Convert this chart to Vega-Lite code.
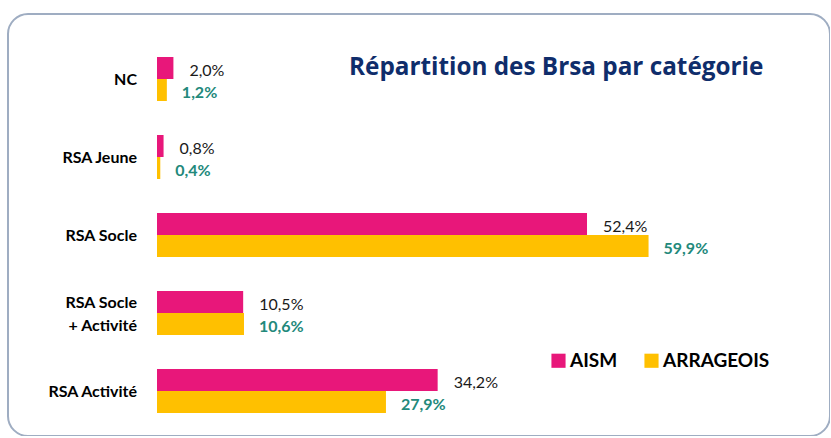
{
  "$schema": "https://vega.github.io/schema/vega-lite/v6.json",
  "width": 822,
  "height": 422,
  "autosize": "none",
  "padding": {"left": 8, "top": 14, "right": 0, "bottom": 0},
  "background": "white",
  "title": {
    "text": "Répartition des Brsa par catégorie",
    "anchor": "start",
    "frame": "group",
    "orient": "top",
    "baseline": "alphabetic",
    "offset": 0,
    "dx": 341,
    "dy": 85,
    "font": "Open Sans",
    "fontSize": 24.3,
    "fontWeight": "bold",
    "color": "#0f2d6b"
  },
  "config": {
    "font": "Lato",
    "locale": {"number": {"decimal": ",", "thousands": " ", "grouping": [3], "currency": ["", " €"], "percent": "%"}},
    "view": {"stroke": "#9fadc2", "strokeWidth": 2, "cornerRadius": 20},
    "legend": {
      "orient": "none",
      "legendX": 541,
      "legendY": 337,
      "direction": "horizontal",
      "symbolType": "square",
      "symbolSize": 200,
      "symbolStrokeWidth": 0,
      "labelFontSize": 19,
      "labelFontWeight": "bold",
      "labelColor": "black",
      "labelFont": "Lato",
      "labelOffset": 2,
      "columnPadding": 24,
      "title": null
    }
  },
  "data": {
    "values": [
      {"cat": "NC", "serie": "AISM", "value": 0.020},
      {"cat": "NC", "serie": "ARRAGEOIS", "value": 0.012},
      {"cat": "RSA Jeune", "serie": "AISM", "value": 0.008},
      {"cat": "RSA Jeune", "serie": "ARRAGEOIS", "value": 0.004},
      {"cat": "RSA Socle", "serie": "AISM", "value": 0.524},
      {"cat": "RSA Socle", "serie": "ARRAGEOIS", "value": 0.599},
      {"cat": "RSA Socle\n+ Activité", "serie": "AISM", "value": 0.105},
      {"cat": "RSA Socle\n+ Activité", "serie": "ARRAGEOIS", "value": 0.106},
      {"cat": "RSA Activité", "serie": "AISM", "value": 0.342},
      {"cat": "RSA Activité", "serie": "ARRAGEOIS", "value": 0.279}
    ]
  },
  "encoding": {
    "y": {
      "field": "cat",
      "type": "nominal",
      "sort": null,
      "scale": {"range": [26, 416], "paddingInner": 0.436, "paddingOuter": 0.218},
      "axis": null
    },
    "yOffset": {"field": "serie", "type": "nominal", "scale": {"paddingInner": 0, "paddingOuter": 0}}
  },
  "layer": [
    {
      "mark": {"type": "bar"},
      "encoding": {
        "x": {
          "field": "value",
          "type": "quantitative",
          "scale": {"domain": [-0.18157, 0.8201], "nice": false, "zero": false},
          "axis": null
        },
        "color": {
          "field": "serie",
          "type": "nominal",
          "scale": {"domain": ["AISM", "ARRAGEOIS"], "range": ["#E8177A", "#FFC000"]}
        }
      }
    },
    {
      "transform": [{"filter": "datum.serie === 'AISM'"}],
      "mark": {"type": "text", "align": "left", "dx": 16, "dy": 3, "fontSize": 16, "color": "#1a1a1a"},
      "encoding": {
        "x": {"field": "value", "type": "quantitative"},
        "text": {"field": "value", "type": "quantitative", "format": ".1%"}
      }
    },
    {
      "transform": [{"filter": "datum.serie === 'ARRAGEOIS'"}],
      "mark": {"type": "text", "align": "left", "dx": 15, "dy": 3, "fontSize": 16, "fontWeight": "bold", "color": "#23897b"},
      "encoding": {
        "x": {"field": "value", "type": "quantitative"},
        "text": {"field": "value", "type": "quantitative", "format": ".1%"}
      }
    },
    {
      "transform": [{"filter": "datum.serie === 'AISM' && indexof(datum.cat, '+') < 0"}],
      "mark": {"type": "text", "align": "right", "baseline": "middle", "dx": -20, "dy": 1, "fontSize": 16, "fontWeight": "bold", "color": "black"},
      "encoding": {
        "x": {"datum": 0, "type": "quantitative"},
        "yOffset": {"value": 22},
        "text": {"field": "cat", "type": "nominal"}
      }
    },
    {
      "transform": [{"filter": "datum.serie === 'AISM' && indexof(datum.cat, '+') >= 0"}],
      "mark": {"type": "text", "align": "right", "baseline": "middle", "dx": -20, "dy": -10.5, "fontSize": 16, "fontWeight": "bold", "color": "black", "lineBreak": "\n", "lineHeight": 23},
      "encoding": {
        "x": {"datum": 0, "type": "quantitative"},
        "yOffset": {"value": 22},
        "text": {"field": "cat", "type": "nominal"}
      }
    }
  ]
}
